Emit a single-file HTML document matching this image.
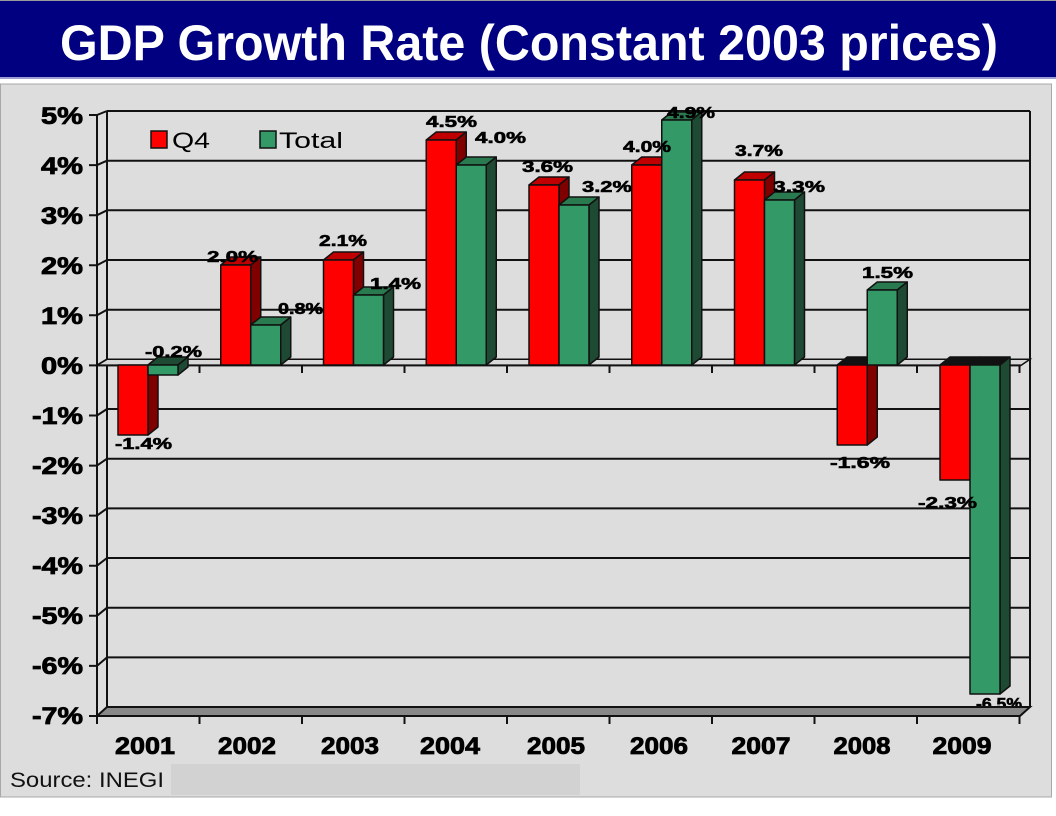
<!DOCTYPE html>
<html><head><meta charset="utf-8"><style>
html,body{margin:0;padding:0;background:#fff;}
svg{display:block;}
text{font-family:"Liberation Sans",Arial,sans-serif;}
</style></head><body>
<svg width="1056" height="816" viewBox="0 0 1056 816" xmlns="http://www.w3.org/2000/svg">
<rect x="0" y="0" width="1056" height="816" fill="#fff"/>
<!-- title bar -->
<rect x="0" y="0" width="1056" height="1" fill="#9a9a9a"/>
<rect x="0" y="1" width="1056" height="76" fill="#000080"/>
<rect x="0" y="77" width="1056" height="2" fill="#9d9dd6"/>
<text x="60" y="60" font-size="50" font-weight="bold" fill="#fff" textLength="938" lengthAdjust="spacingAndGlyphs">GDP Growth Rate (Constant 2003 prices)</text>
<!-- panel -->
<rect x="0.5" y="84" width="1051" height="713" fill="#dddddd" stroke="#a8a8a8" stroke-width="1"/>
<!-- source box -->
<rect x="171" y="764" width="409" height="31" fill="#d2d2d2"/>
<text x="10" y="787" font-size="21" fill="#111" textLength="154" lengthAdjust="spacingAndGlyphs">Source: INEGI</text>

<g stroke="#111" stroke-width="2" fill="none">
<line x1="107" y1="111" x2="1030" y2="111"/>
<line x1="107" y1="160.7" x2="1030" y2="160.7"/>
<line x1="107" y1="210.3" x2="1030" y2="210.3"/>
<line x1="107" y1="260" x2="1030" y2="260"/>
<line x1="107" y1="309.7" x2="1030" y2="309.7"/>
<line x1="107" y1="409" x2="1030" y2="409"/>
<line x1="107" y1="458.7" x2="1030" y2="458.7"/>
<line x1="107" y1="508.4" x2="1030" y2="508.4"/>
<line x1="107" y1="558" x2="1030" y2="558"/>
<line x1="107" y1="607.7" x2="1030" y2="607.7"/>
<line x1="107" y1="657.4" x2="1030" y2="657.4"/>
<line x1="107" y1="111" x2="107" y2="707"/>
<line x1="1030" y1="111" x2="1030" y2="707"/>
<line x1="97" y1="115" x2="97" y2="716"/>
<path d="M97 115 L107 111 M97 165.1 L107 160.7 M97 215.2 L107 210.3 M97 265.2 L107 260 M97 315.3 L107 309.7 M97 365.4 L107 359.3 M97 415.5 L107 409 M97 465.6 L107 458.7 M97 515.6 L107 508.4 M97 565.7 L107 558 M97 615.8 L107 607.7 M97 665.9 L107 657.4"/>
<path d="M89 115 H97 M89 165.1 H97 M89 215.2 H97 M89 265.2 H97 M89 315.3 H97 M89 365.4 H97 M89 415.5 H97 M89 465.6 H97 M89 515.6 H97 M89 565.7 H97 M89 615.8 H97 M89 665.9 H97 M89 716 H97"/>
</g>
<!-- zero plane -->
<polygon points="97,365.4 107,359.3 1030,359.3 1021,365.4" fill="#d8d8d8" stroke="#111" stroke-width="1.5"/>
<line x1="97" y1="365.4" x2="1021" y2="365.4" stroke="#111" stroke-width="2"/>
<g stroke="#111" stroke-width="2">
<path d="M199.5 365 V373 M302 365 V373 M404.5 365 V373 M507 365 V373 M609.5 365 V373 M712 365 V373 M814.5 365 V373 M917 365 V373 M1019.5 365 V373"/>
</g>

<text x="976" y="709" font-size="16" font-weight="bold" fill="#000" stroke="#000" stroke-width="0.6" textLength="46" lengthAdjust="spacingAndGlyphs">-6.5%</text>
<!-- floor -->
<polygon points="97,716 107,707 1030,707 1020,716" fill="#888" stroke="#111" stroke-width="2"/>
<g stroke="#111" stroke-width="2">
<path d="M97 716 V724 M199.5 716 V724 M302 716 V724 M404.5 716 V724 M507 716 V724 M609.5 716 V724 M712 716 V724 M814.5 716 V724 M917 716 V724 M1019.5 716 V724"/>
</g>

<!-- bars -->
<g stroke="#111" stroke-width="1.5" stroke-linejoin="round">
<polygon points="148,365 158,357 158,427 148,435" fill="#800000"/>
<rect x="118" y="365" width="30" height="70" fill="#ff0000"/>
<polygon points="148,365 158,357 188,357 178,365" fill="#1e4a33"/>
<polygon points="178,365 188,357 188,367 178,375" fill="#1e4a33"/>
<rect x="148" y="365" width="30" height="10" fill="#339966"/>

<polygon points="220.75,265 230.75,257 260.75,257 250.75,265" fill="#c00000"/>
<polygon points="250.75,265 260.75,257 260.75,357 250.75,365" fill="#800000"/>
<rect x="220.75" y="265" width="30" height="100" fill="#ff0000"/>
<polygon points="250.75,325 260.75,317 290.75,317 280.75,325" fill="#2a7a50"/>
<polygon points="280.75,325 290.75,317 290.75,357 280.75,365" fill="#1e4a33"/>
<rect x="250.75" y="325" width="30" height="40" fill="#339966"/>

<polygon points="323.5,260 333.5,252 363.5,252 353.5,260" fill="#c00000"/>
<polygon points="353.5,260 363.5,252 363.5,357 353.5,365" fill="#800000"/>
<rect x="323.5" y="260" width="30" height="105" fill="#ff0000"/>
<polygon points="353.5,295 363.5,287 393.5,287 383.5,295" fill="#2a7a50"/>
<polygon points="383.5,295 393.5,287 393.5,357 383.5,365" fill="#1e4a33"/>
<rect x="353.5" y="295" width="30" height="70" fill="#339966"/>

<polygon points="426.25,140 436.25,132 466.25,132 456.25,140" fill="#c00000"/>
<polygon points="456.25,140 466.25,132 466.25,357 456.25,365" fill="#800000"/>
<rect x="426.25" y="140" width="30" height="225" fill="#ff0000"/>
<polygon points="456.25,165 466.25,157 496.25,157 486.25,165" fill="#2a7a50"/>
<polygon points="486.25,165 496.25,157 496.25,357 486.25,365" fill="#1e4a33"/>
<rect x="456.25" y="165" width="30" height="200" fill="#339966"/>

<polygon points="529,185 539,177 569,177 559,185" fill="#c00000"/>
<polygon points="559,185 569,177 569,357 559,365" fill="#800000"/>
<rect x="529" y="185" width="30" height="180" fill="#ff0000"/>
<polygon points="559,205 569,197 599,197 589,205" fill="#2a7a50"/>
<polygon points="589,205 599,197 599,357 589,365" fill="#1e4a33"/>
<rect x="559" y="205" width="30" height="160" fill="#339966"/>

<polygon points="631.75,165 641.75,157 671.75,157 661.75,165" fill="#c00000"/>
<polygon points="661.75,165 671.75,157 671.75,357 661.75,365" fill="#800000"/>
<rect x="631.75" y="165" width="30" height="200" fill="#ff0000"/>
<polygon points="661.75,120 671.75,112 701.75,112 691.75,120" fill="#2a7a50"/>
<polygon points="691.75,120 701.75,112 701.75,357 691.75,365" fill="#1e4a33"/>
<rect x="661.75" y="120" width="30" height="245" fill="#339966"/>

<polygon points="734.5,180 744.5,172 774.5,172 764.5,180" fill="#c00000"/>
<polygon points="764.5,180 774.5,172 774.5,357 764.5,365" fill="#800000"/>
<rect x="734.5" y="180" width="30" height="185" fill="#ff0000"/>
<polygon points="764.5,200 774.5,192 804.5,192 794.5,200" fill="#2a7a50"/>
<polygon points="794.5,200 804.5,192 804.5,357 794.5,365" fill="#1e4a33"/>
<rect x="764.5" y="200" width="30" height="165" fill="#339966"/>

<polygon points="837.25,365 847.25,357 877.25,357 867.25,365" fill="#111"/>
<polygon points="867.25,365 877.25,357 877.25,437 867.25,445" fill="#800000"/>
<rect x="837.25" y="365" width="30" height="80" fill="#ff0000"/>
<polygon points="867.25,290 877.25,282 907.25,282 897.25,290" fill="#2a7a50"/>
<polygon points="897.25,290 907.25,282 907.25,357 897.25,365" fill="#1e4a33"/>
<rect x="867.25" y="290" width="30" height="75" fill="#339966"/>

<polygon points="940,365 950,357 980,357 970,365" fill="#111"/>
<rect x="940" y="365" width="30" height="115" fill="#ff0000"/>
<polygon points="970,365 980,357 1010,357 1000,365" fill="#111"/>
<polygon points="1000,365 1010,357 1010,686 1000,694" fill="#1e4a33"/>
<rect x="970" y="365" width="30" height="329" fill="#339966"/>
</g>

<!-- data labels -->
<g font-size="16" font-weight="bold" fill="#000" stroke="#000" stroke-width="0.6">
<text x="145" y="357" textLength="57" lengthAdjust="spacingAndGlyphs">-0.2%</text>
<text x="115" y="449" textLength="57" lengthAdjust="spacingAndGlyphs">-1.4%</text>
<text x="207" y="262" textLength="51" lengthAdjust="spacingAndGlyphs">2.0%</text>
<text x="278" y="314" textLength="45" lengthAdjust="spacingAndGlyphs">0.8%</text>
<text x="319" y="246" textLength="48" lengthAdjust="spacingAndGlyphs">2.1%</text>
<text x="370" y="289" textLength="51" lengthAdjust="spacingAndGlyphs">1.4%</text>
<text x="426" y="127" textLength="51" lengthAdjust="spacingAndGlyphs">4.5%</text>
<text x="475" y="143" textLength="51" lengthAdjust="spacingAndGlyphs">4.0%</text>
<text x="522" y="172" textLength="51" lengthAdjust="spacingAndGlyphs">3.6%</text>
<text x="582" y="192" textLength="50" lengthAdjust="spacingAndGlyphs">3.2%</text>
<text x="623" y="152" textLength="48" lengthAdjust="spacingAndGlyphs">4.0%</text>
<text x="667" y="118" textLength="48" lengthAdjust="spacingAndGlyphs">4.9%</text>
<text x="735" y="156" textLength="48" lengthAdjust="spacingAndGlyphs">3.7%</text>
<text x="773" y="192" textLength="52" lengthAdjust="spacingAndGlyphs">3.3%</text>
<text x="862" y="278" textLength="51" lengthAdjust="spacingAndGlyphs">1.5%</text>
<text x="830" y="468" textLength="60" lengthAdjust="spacingAndGlyphs">-1.6%</text>
<text x="918" y="508" textLength="59" lengthAdjust="spacingAndGlyphs">-2.3%</text>
</g>

<!-- legend -->
<rect x="151" y="131" width="16" height="17" fill="#ff0000" stroke="#111" stroke-width="1.5"/>
<text x="172" y="148" font-size="22" fill="#000" textLength="38" lengthAdjust="spacingAndGlyphs">Q4</text>
<rect x="260" y="131" width="16" height="17" fill="#339966" stroke="#111" stroke-width="1.5"/>
<text x="279" y="148" font-size="22" fill="#000" textLength="64" lengthAdjust="spacingAndGlyphs">Total</text>

<!-- y axis labels -->
<g font-size="24" font-weight="bold" fill="#000" stroke="#000" stroke-width="0.8" text-anchor="end">
<text x="83" y="124" textLength="42" lengthAdjust="spacingAndGlyphs">5%</text>
<text x="83" y="174" textLength="42" lengthAdjust="spacingAndGlyphs">4%</text>
<text x="83" y="224" textLength="42" lengthAdjust="spacingAndGlyphs">3%</text>
<text x="83" y="274" textLength="42" lengthAdjust="spacingAndGlyphs">2%</text>
<text x="83" y="324" textLength="42" lengthAdjust="spacingAndGlyphs">1%</text>
<text x="83" y="374" textLength="42" lengthAdjust="spacingAndGlyphs">0%</text>
<text x="83" y="424" textLength="51" lengthAdjust="spacingAndGlyphs">-1%</text>
<text x="83" y="474" textLength="51" lengthAdjust="spacingAndGlyphs">-2%</text>
<text x="83" y="524" textLength="51" lengthAdjust="spacingAndGlyphs">-3%</text>
<text x="83" y="574" textLength="51" lengthAdjust="spacingAndGlyphs">-4%</text>
<text x="83" y="624" textLength="51" lengthAdjust="spacingAndGlyphs">-5%</text>
<text x="83" y="674" textLength="51" lengthAdjust="spacingAndGlyphs">-6%</text>
<text x="83" y="724" textLength="51" lengthAdjust="spacingAndGlyphs">-7%</text>
</g>

<!-- x axis labels -->
<g font-size="24" font-weight="bold" fill="#000" stroke="#000" stroke-width="0.8" text-anchor="middle">
<text x="145" y="754" textLength="60" lengthAdjust="spacingAndGlyphs">2001</text>
<text x="247" y="754" textLength="58" lengthAdjust="spacingAndGlyphs">2002</text>
<text x="350" y="754" textLength="58" lengthAdjust="spacingAndGlyphs">2003</text>
<text x="450" y="754" textLength="60" lengthAdjust="spacingAndGlyphs">2004</text>
<text x="556" y="754" textLength="58" lengthAdjust="spacingAndGlyphs">2005</text>
<text x="659" y="754" textLength="58" lengthAdjust="spacingAndGlyphs">2006</text>
<text x="761" y="754" textLength="59" lengthAdjust="spacingAndGlyphs">2007</text>
<text x="862" y="754" textLength="57" lengthAdjust="spacingAndGlyphs">2008</text>
<text x="962" y="754" textLength="59" lengthAdjust="spacingAndGlyphs">2009</text>
</g>
</svg>
</body></html>
